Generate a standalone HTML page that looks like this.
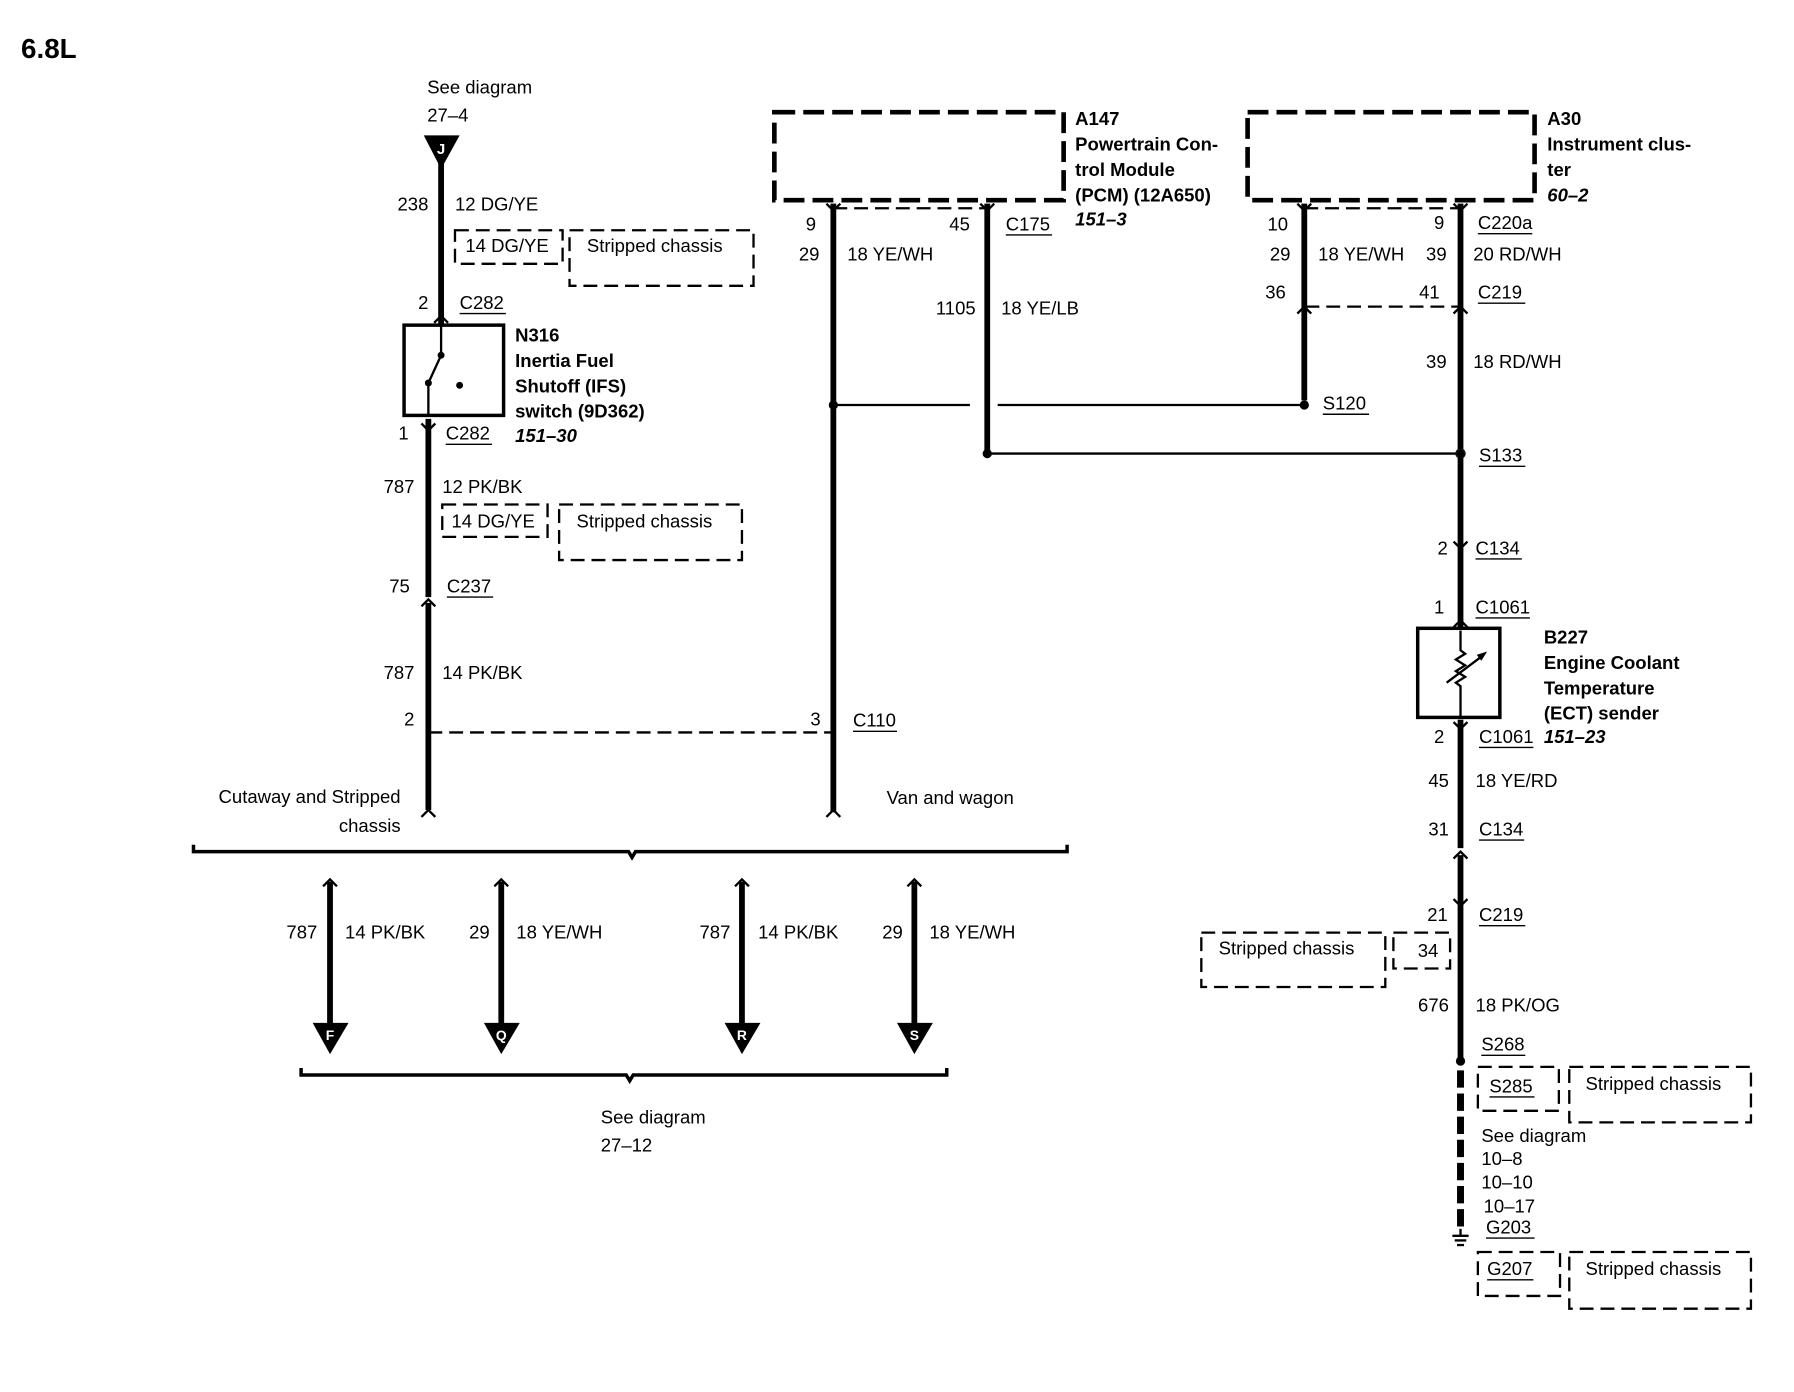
<!DOCTYPE html>
<html><head><meta charset="utf-8"><style>
html,body{margin:0;padding:0;background:#fff;}
svg{display:block;}
text{font-family:"Liberation Sans",sans-serif;font-size:16px;fill:#000;}
.b{font-weight:bold;}
.i{font-weight:bold;font-style:italic;}
.r{text-anchor:end;}
.w{stroke:#000;stroke-width:5;fill:none;}
.t{stroke:#000;stroke-width:2;fill:none;}
.d{stroke:#000;stroke-width:2;fill:none;stroke-dasharray:12,6;}
.dd{stroke:#000;stroke-width:4;fill:none;stroke-dasharray:18,7;}
.u{stroke:#000;stroke-width:1.2;}
</style></head><body>
<svg width="1794" height="1392" viewBox="0 0 1550 1203" xmlns="http://www.w3.org/2000/svg">
<text x="18" y="50" class="b" style="font-size:24px">6.8L</text>

<!-- Left column -->
<text x="369" y="81">See diagram</text>
<text x="369" y="105">27–4</text>
<polygon points="366,117 397,117 381,146" fill="#000"/>
<text x="381" y="133" style="fill:#fff;font-size:13px;font-weight:bold" text-anchor="middle">J</text>
<line class="w" x1="381" y1="140" x2="381" y2="280"/>
<text x="370" y="182" class="r">238</text><text x="393" y="182">12 DG/YE</text>
<rect class="d" x="393" y="199" width="93" height="29"/><text x="402" y="218">14 DG/YE</text>
<rect class="d" x="492" y="199" width="159" height="48"/><text x="507" y="218">Stripped chassis</text>
<text x="370" y="267" class="r">2</text><text x="397" y="267">C282</text><line class="u" x1="397" y1="271" x2="437" y2="271"/>
<path class="t" d="M375,279 L381,273 L387,279"/>
<rect x="349" y="281" width="86" height="78" fill="none" stroke="#000" stroke-width="3"/>
<path class="t" d="M381,281 L381,307 L370,331 L370,359"/>
<circle cx="381" cy="307" r="3"/><circle cx="370" cy="331" r="3"/><circle cx="397" cy="333" r="3"/>
<text x="445" y="295" class="b">N316</text>
<text x="445" y="317" class="b">Inertia Fuel</text>
<text x="445" y="339" class="b">Shutoff (IFS)</text>
<text x="445" y="361" class="b">switch (9D362)</text>
<text x="445" y="382" class="i">151–30</text>
<path class="t" d="M364,366 L370,372 L376,366"/>
<line class="w" x1="370" y1="362" x2="370" y2="516"/>
<text x="353" y="380" class="r">1</text><text x="385" y="380">C282</text><line class="u" x1="385" y1="384" x2="425" y2="384"/>
<text x="358" y="426" class="r">787</text><text x="382" y="426">12 PK/BK</text>
<rect class="d" x="382" y="436" width="91" height="28"/><text x="390" y="456">14 DG/YE</text>
<rect class="d" x="483" y="436" width="158" height="48"/><text x="498" y="456">Stripped chassis</text>
<text x="354" y="512" class="r">75</text><text x="386" y="512">C237</text><line class="u" x1="386" y1="516" x2="426" y2="516"/>
<path class="t" d="M364,524 L370,518 L376,524"/>
<line class="w" x1="370" y1="521" x2="370" y2="700"/>
<text x="358" y="587" class="r">787</text><text x="382" y="587">14 PK/BK</text>
<text x="358" y="627" class="r">2</text>
<line class="d" x1="370" y1="633" x2="720" y2="633"/>
<text x="709" y="627" class="r">3</text><text x="737" y="628">C110</text><line class="u" x1="737" y1="632" x2="775" y2="632"/>
<path class="t" d="M364,706 Q370,700 370,700 Q370,700 376,706"/>
<text x="346" y="694" class="r">Cutaway  and Stripped</text>
<text x="346" y="719" class="r">chassis</text>

<!-- PCM -->
<rect class="dd" x="669" y="97" width="250" height="76"/>
<text x="929" y="108" class="b">A147</text>
<text x="929" y="130" class="b">Powertrain Con-</text>
<text x="929" y="152" class="b">trol Module</text>
<text x="929" y="174" class="b">(PCM) (12A650)</text>
<text x="929" y="195" class="i">151–3</text>
<line class="d" x1="720" y1="180" x2="853" y2="180"/>
<line class="w" x1="720" y1="176" x2="720" y2="702"/>
<line class="w" x1="853" y1="176" x2="853" y2="390"/>
<path class="t" d="M714,176 L720,182 L726,176 M847,176 L853,182 L859,176"/>
<text x="705" y="199" class="r">9</text>
<text x="708" y="225" class="r">29</text><text x="732" y="225">18 YE/WH</text>
<text x="838" y="199" class="r">45</text><text x="869" y="199">C175</text><line class="u" x1="869" y1="203" x2="909" y2="203"/>
<text x="843" y="272" class="r">1105</text><text x="865" y="272">18 YE/LB</text>
<line class="t" x1="720" y1="350" x2="838" y2="350"/>
<line class="t" x1="862" y1="350" x2="1127" y2="350"/>
<circle cx="720" cy="350" r="4"/>
<line class="t" x1="853" y1="392" x2="1262" y2="392"/>
<circle cx="853" cy="392" r="4"/>
<path class="t" d="M714,706 L720,700 L726,706"/>
<text x="766" y="695">Van and wagon</text>

<!-- Instrument cluster -->
<rect class="dd" x="1078" y="97" width="248" height="76"/>
<text x="1337" y="108" class="b">A30</text>
<text x="1337" y="130" class="b">Instrument clus-</text>
<text x="1337" y="152" class="b">ter</text>
<text x="1337" y="174" class="i">60–2</text>
<rect class="d" x="1127" y="180" width="135" height="85"/>
<line class="w" x1="1127" y1="176" x2="1127" y2="346"/>
<circle cx="1127" cy="350" r="4"/>
<path class="t" d="M1121,176 L1127,182 L1133,176 M1256,176 L1262,182 L1268,176 M1121,271 L1127,265 L1133,271 M1256,271 L1262,265 L1268,271"/>
<text x="1113" y="199" class="r">10</text>
<text x="1115" y="225" class="r">29</text><text x="1139" y="225">18 YE/WH</text>
<text x="1111" y="258" class="r">36</text>
<text x="1143" y="354">S120</text><line class="u" x1="1143" y1="358" x2="1183" y2="358"/>
<line class="w" x1="1262" y1="176" x2="1262" y2="543"/>
<circle cx="1262" cy="392" r="4" fill="#fff" stroke="#000" stroke-width="1"/>
<circle cx="1262" cy="392" r="3.5"/>
<text x="1248" y="198" class="r">9</text><text x="1277" y="198">C220a</text><line class="u" x1="1277" y1="202" x2="1324" y2="202"/>
<text x="1250" y="225" class="r">39</text><text x="1273" y="225">20 RD/WH</text>
<text x="1244" y="258" class="r">41</text><text x="1277" y="258">C219</text><line class="u" x1="1277" y1="262" x2="1318" y2="262"/>
<text x="1250" y="318" class="r">39</text><text x="1273" y="318">18 RD/WH</text>
<text x="1278" y="399">S133</text><line class="u" x1="1278" y1="403" x2="1318" y2="403"/>
<path class="t" d="M1256,468 L1262,474 L1268,468"/>
<text x="1251" y="479" class="r">2</text><text x="1275" y="479">C134</text><line class="u" x1="1275" y1="483" x2="1315" y2="483"/>
<text x="1248" y="530" class="r">1</text><text x="1275" y="530">C1061</text><line class="u" x1="1275" y1="534" x2="1322" y2="534"/>
<path class="t" d="M1256,542 L1262,536 L1268,542"/>
<rect x="1225" y="543" width="71" height="77" fill="none" stroke="#000" stroke-width="3"/>
<path class="t" d="M1262,545 L1262,562 L1266,565 L1258,570 L1266,575 L1258,580 L1266,585 L1258,590 L1262,593 L1262,620"/>
<line class="t" x1="1250" y1="590" x2="1282" y2="566"/>
<polygon points="1285,563 1276,566 1280,571" fill="#000"/>
<text x="1334" y="556" class="b">B227</text>
<text x="1334" y="578" class="b">Engine Coolant</text>
<text x="1334" y="600" class="b">Temperature</text>
<text x="1334" y="622" class="b">(ECT) sender</text>
<text x="1248" y="642" class="r">2</text><text x="1278" y="642">C1061</text><line class="u" x1="1278" y1="646" x2="1325" y2="646"/>
<text x="1334" y="642" class="i">151–23</text>
<path class="t" d="M1256,624 L1262,630 L1268,624"/>
<line class="w" x1="1262" y1="622" x2="1262" y2="733"/>
<text x="1252" y="680" class="r">45</text><text x="1275" y="680">18 YE/RD</text>
<text x="1252" y="722" class="r">31</text><text x="1278" y="722">C134</text><line class="u" x1="1278" y1="726" x2="1317" y2="726"/>
<path class="t" d="M1256,742 L1262,736 L1268,742"/>
<line class="w" x1="1262" y1="739" x2="1262" y2="915"/>
<path class="t" d="M1256,777 L1262,783 L1268,777"/>
<text x="1251" y="796" class="r">21</text><text x="1278" y="796">C219</text><line class="u" x1="1278" y1="800" x2="1318" y2="800"/>
<rect class="d" x="1038" y="806" width="159" height="47"/><text x="1053" y="825">Stripped chassis</text>
<rect class="d" x="1204" y="806" width="49" height="31"/><text x="1225" y="827">34</text>
<text x="1252" y="874" class="r">676</text><text x="1275" y="874">18 PK/OG</text>
<text x="1280" y="908">S268</text><line class="u" x1="1280" y1="912" x2="1318" y2="912"/>
<circle cx="1262" cy="917" r="4"/>
<line x1="1262" y1="925" x2="1262" y2="1064" stroke="#000" stroke-width="6" stroke-dasharray="15,5"/>
<line class="t" x1="1262" y1="1062" x2="1262" y2="1068"/>
<line class="t" x1="1255" y1="1068" x2="1269" y2="1068"/>
<line class="t" x1="1257" y1="1072" x2="1267" y2="1072"/>
<line class="t" x1="1259" y1="1076" x2="1265" y2="1076"/>
<rect class="d" x="1277" y="922" width="70" height="38"/><text x="1287" y="944">S285</text><line class="u" x1="1287" y1="948" x2="1326" y2="948"/>
<rect class="d" x="1356" y="922" width="157" height="48"/><text x="1370" y="942">Stripped chassis</text>
<text x="1280" y="987">See diagram</text>
<text x="1280" y="1007">10–8</text>
<text x="1280" y="1027">10–10</text>
<text x="1282" y="1048">10–17</text>
<text x="1284" y="1066">G203</text><line class="u" x1="1284" y1="1070" x2="1326" y2="1070"/>
<rect class="d" x="1277" y="1082" width="71" height="38"/><text x="1285" y="1102">G207</text><line class="u" x1="1285" y1="1106" x2="1325" y2="1106"/>
<rect class="d" x="1356" y="1082" width="157" height="49"/><text x="1370" y="1102">Stripped chassis</text>

<!-- Bottom brace -->
<path d="M167,730 L167,736 L543,736 L546,741 L549,736 L922,736 L922,730" fill="none" stroke="#000" stroke-width="3"/>
<g>
<line class="w" x1="285" y1="762" x2="285" y2="888"/>
<line class="w" x1="433" y1="762" x2="433" y2="888"/>
<line class="w" x1="641" y1="762" x2="641" y2="888"/>
<line class="w" x1="790" y1="762" x2="790" y2="888"/>
<path class="t" d="M279,766 L285,760 L291,766 M427,766 L433,760 L439,766 M635,766 L641,760 L647,766 M784,766 L790,760 L796,766"/>
<polygon points="270,884 301,884 285,911" fill="#000"/>
<polygon points="418,884 449,884 433,911" fill="#000"/>
<polygon points="626,884 657,884 641,911" fill="#000"/>
<polygon points="775,884 806,884 790,911" fill="#000"/>
<text x="285" y="899" text-anchor="middle" style="fill:#fff;font-size:12px;font-weight:bold">F</text>
<text x="433" y="899" text-anchor="middle" style="fill:#fff;font-size:12px;font-weight:bold">Q</text>
<text x="641" y="899" text-anchor="middle" style="fill:#fff;font-size:12px;font-weight:bold">R</text>
<text x="790" y="899" text-anchor="middle" style="fill:#fff;font-size:12px;font-weight:bold">S</text>
</g>
<text x="274" y="811" class="r">787</text><text x="298" y="811">14 PK/BK</text>
<text x="423" y="811" class="r">29</text><text x="446" y="811">18 YE/WH</text>
<text x="631" y="811" class="r">787</text><text x="655" y="811">14 PK/BK</text>
<text x="780" y="811" class="r">29</text><text x="803" y="811">18 YE/WH</text>
<path d="M260,923 L260,929 L541,929 L544,934 L547,929 L818,929 L818,923" fill="none" stroke="#000" stroke-width="3"/>
<text x="519" y="971">See diagram</text>
<text x="519" y="995">27–12</text>
</svg>
</body></html>
